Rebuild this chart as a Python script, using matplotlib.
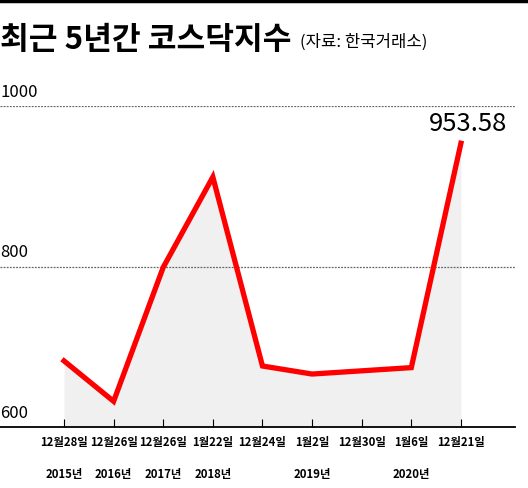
import matplotlib
matplotlib.use("Agg")
import matplotlib.pyplot as plt
from matplotlib.lines import Line2D

plt.rcParams["font.family"] = ["Noto Sans CJK KR", "DejaVu Sans"]

# 코스닥지수 (자료: 한국거래소)
dates = ["12월28일\n2015년", "12월26일\n2016년", "12월26일\n2017년", "1월22일\n2018년",
         "12월24일", "1월2일\n2019년", "12월30일", "1월6일\n2020년", "12월21일"]
kosdaq = [682.4, 632.0, 799.0, 911.5, 676.0, 666.0, 670.0, 674.0, 953.58]
y_ticks = [600, 800, 1000]

fig = plt.figure(figsize=(5.28, 4.89), dpi=100)
ax = fig.add_axes([0, 1 - 428 / 489, 515 / 528, (428 - 107) / 489])

x = list(range(len(kosdaq)))
ax.fill_between(x, y_ticks[0], kosdaq, color="#f0f0f0", lw=0, zorder=1)
ax.plot(x, kosdaq, color="#ff0000", lw=3.8, solid_joinstyle="miter", zorder=3)

ax.set_xlim(-1.29, 9.09)
ax.set_ylim(y_ticks[0], y_ticks[-1])

for v in y_ticks[1:]:
    ax.axhline(v, color="#666666", lw=0.9, ls=(0, (1.5, 1)), zorder=2)
for v in y_ticks:
    ax.annotate(str(v), xy=(0, v), xycoords=("axes fraction", "data"),
                xytext=(0, 4.5), textcoords="offset points", ha="left", va="bottom",
                fontsize=12)

for s in ["top", "right", "left"]:
    ax.spines[s].set_visible(False)
ax.spines["bottom"].set_linewidth(1.3)
ax.set_yticks([])
ax.set_xticks(x)
ax.set_xticklabels(dates, fontsize=8.2, fontweight="bold", linespacing=2.9)
ax.tick_params(axis="x", direction="in", length=6, width=0.8, pad=6)

ax.annotate(f"{kosdaq[-1]:.2f}", xy=(x[-1], kosdaq[-1]), xytext=(5, 5),
            textcoords="offset points", ha="center", va="bottom",
            fontsize=18.5)

fig.text(0.0, 1 - 49 / 489, "최근 5년간 코스닥지수", fontsize=22.5, fontweight="bold",
         ha="left", va="baseline")
fig.text(300 / 528, 1 - 47 / 489, "(자료: 한국거래소)", fontsize=12,
         ha="left", va="baseline")
fig.add_artist(Line2D([0, 1], [1 - 1.5 / 489] * 2, color="black", lw=2.5,
                      transform=fig.transFigure))

fig.savefig("out.png", dpi=100)
